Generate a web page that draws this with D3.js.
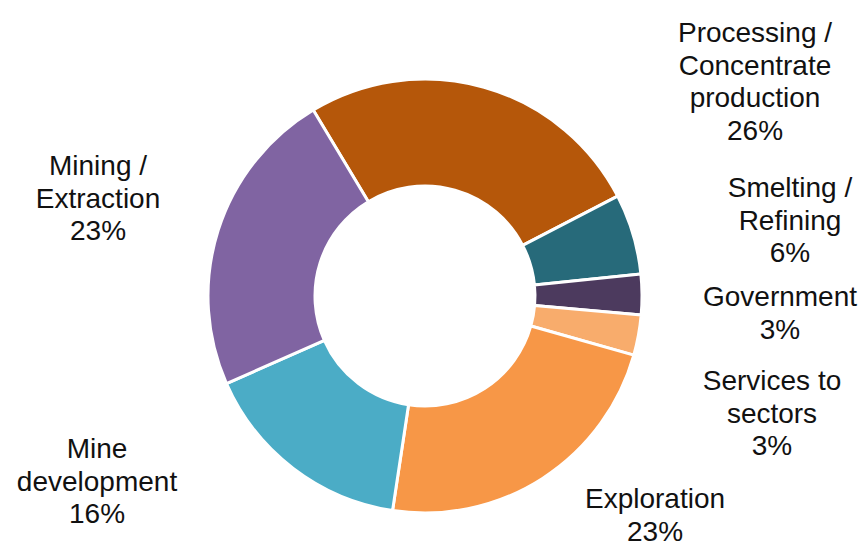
<!DOCTYPE html>
<html>
<head>
<meta charset="utf-8">
<script src="https://cdn.jsdelivr.net/npm/d3@7"></script>
<style>
  body { margin: 0; background: #fff; }
  svg { display: block; }
  text { font-family: "Liberation Sans", Arial, sans-serif; fill: #111; }
</style>
</head>
<body>
<div id="chart"></div>
<script>
// data
var sectors = ["Processing / Concentrate production", "Smelting / Refining", "Government",
               "Services to sectors", "Exploration", "Mine development", "Mining / Extraction"];
var shares = [26, 6, 3, 3, 23, 16, 23];
var colors = ["#B5570A", "#276A7A", "#4C3A5E", "#F8AC6C", "#F79747", "#4BACC6", "#8064A2"];
// wrapped label lines per sector
var labelLines = [
    ["Processing /", "Concentrate", "production"],
    ["Smelting /", "Refining"],
    ["Government"],
    ["Services to", "sectors"],
    ["Exploration"],
    ["Mine", "development"],
    ["Mining /", "Extraction"]
];

var width = 864, height = 542;
var cx = 425, cy = 296;
var outerR = 217, innerR = 110;
var startDeg = -31;

var svg = d3.select("#chart").append("svg")
    .attr("width", width)
    .attr("height", height);

var pie = d3.pie().sort(null)
    .startAngle(startDeg * Math.PI / 180)
    .endAngle((startDeg + 360) * Math.PI / 180);

var arc = d3.arc().innerRadius(innerR).outerRadius(outerR);

var g = svg.append("g").attr("transform", "translate(" + cx + "," + cy + ")");

g.selectAll("path.slice")
    .data(pie(shares))
    .enter().append("path")
    .attr("class", "slice")
    .attr("d", arc)
    .attr("fill", function(d, i) { return colors[i]; })
    .attr("stroke", "#fff")
    .attr("stroke-width", 3)
    .attr("stroke-linejoin", "round");

// label anchor: centre x and first baseline y
var labelPos = [
    [755, 42],
    [790, 197],
    [780, 306],
    [772, 390],
    [655, 508],
    [97, 458],
    [98, 175]
];
var lineH = 32.5;

var labels = svg.selectAll("text.lbl")
    .data(sectors)
    .enter().append("text")
    .attr("class", "lbl")
    .attr("text-anchor", "middle")
    .attr("font-size", 28)
    .attr("transform", function(d, i) { return "translate(" + labelPos[i][0] + "," + labelPos[i][1] + ")"; });

labels.each(function(d, i) {
    var t = d3.select(this);
    var lines = labelLines[i].concat([shares[i] + "%"]);
    lines.forEach(function(s, j) {
        t.append("tspan").attr("x", 0).attr("y", j * lineH).text(s);
    });
});
</script>
</body>
</html>
